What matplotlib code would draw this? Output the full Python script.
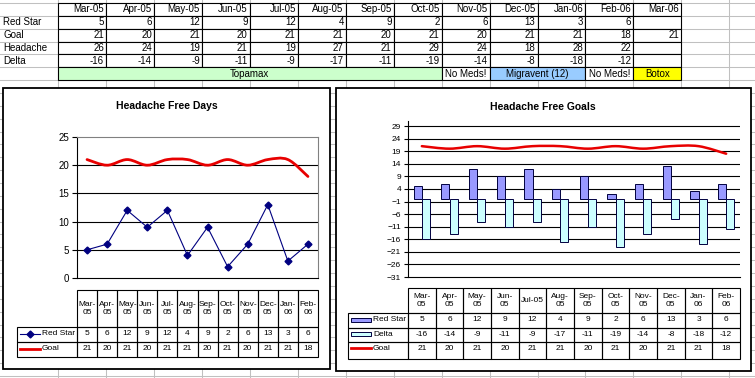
import numpy as np
import matplotlib.pyplot as plt
from matplotlib.patches import Rectangle, PathPatch
from matplotlib.path import Path
from matplotlib.lines import Line2D
from matplotlib.transforms import blended_transform_factory

plt.rcParams['font.family'] = ['Liberation Sans', 'DejaVu Sans']

# data
months = ['Mar-05', 'Apr-05', 'May-05', 'Jun-05', 'Jul-05', 'Aug-05',
          'Sep-05', 'Oct-05', 'Nov-05', 'Dec-05', 'Jan-06', 'Feb-06']
next_month = 'Mar-06'
red_star = [5, 6, 12, 9, 12, 4, 9, 2, 6, 13, 3, 6]
goal = [21, 20, 21, 20, 21, 21, 20, 21, 20, 21, 21, 18]
goal_next = 21
headache = [26, 24, 19, 21, 19, 27, 21, 29, 24, 18, 28, 22]
delta = [-16, -14, -9, -11, -9, -17, -11, -19, -14, -8, -18, -12]
meds = ['Topamax', 'No Meds!', 'Migravent (12)', 'No Meds!', 'Botox']
med_spans = [8, 1, 2, 1, 1]
med_colors = ['#ccffcc', 'white', '#99ccff', 'white', '#ffff00']

RED = '#e80000'
NAVY = '#000080'
PURPLE = '#9999ff'
CYAN = '#ccffff'

W, H = 755, 378
fig = plt.figure(figsize=(W / 100, H / 100), dpi=100)
bg = fig.add_axes([0, 0, 1, 1])
bg.set_xlim(0, W)
bg.set_ylim(H, 0)
bg.axis('off')


def px_axes(x0, y0, x1, y1):
    return fig.add_axes([x0 / W, 1 - y1 / H, (x1 - x0) / W, (y1 - y0) / H])


def smooth_path(xs, ys):
    # excel-style smoothed line (catmull-rom as cubic beziers)
    pts = np.column_stack([xs, ys]).astype(float)
    n = len(pts)
    verts, codes = [pts[0]], [Path.MOVETO]
    for i in range(n - 1):
        p0 = pts[i - 1] if i > 0 else pts[i]
        p1, p2 = pts[i], pts[i + 1]
        p3 = pts[i + 2] if i + 2 < n else pts[i + 1]
        verts += [p1 + (p2 - p0) / 6, p2 - (p3 - p1) / 6, p2]
        codes += [Path.CURVE4] * 3
    return Path(verts, codes)


# spreadsheet gridlines
col_x0, col_w = 58, 47.95
row_y0, row_h = 3, 12.86
for k in range(15):
    x = col_x0 + k * col_w
    bg.plot([x, x], [0, H], color='#c0c0c0', lw=0.75, zorder=0)
for k in range(-1, 30):
    y = row_y0 + k * row_h
    bg.plot([0, W], [y, y], color='#c0c0c0', lw=0.75, zorder=0)

# top table
sheet_rows = [('Red Star', red_star + ['']), ('Goal', goal + [goal_next]),
              ('Headache', headache + ['']), ('Delta', delta + [''])]
sheet_months = months + [next_month]
for c, m in enumerate(sheet_months):
    x = col_x0 + c * col_w
    for r in range(5):
        bg.add_patch(Rectangle((x, row_y0 + r * row_h), col_w, row_h,
                               fc='white', ec='black', lw=0.8, zorder=1))
    bg.text(x + col_w - 2, row_y0 + 0.5 * row_h, m, ha='right', va='center',
            fontsize=7, zorder=2)
    for r, (name, vals) in enumerate(sheet_rows):
        bg.text(x + col_w - 2, row_y0 + (r + 1.5) * row_h, str(vals[c]),
                ha='right', va='center', fontsize=7, zorder=2)
for r, (name, vals) in enumerate(sheet_rows):
    bg.text(3, row_y0 + (r + 1.5) * row_h, name, ha='left', va='center',
            fontsize=7, zorder=2)

c = 0
y_med = row_y0 + 5 * row_h
for label, span, color in zip(meds, med_spans, med_colors):
    x = col_x0 + c * col_w
    bg.add_patch(Rectangle((x, y_med), span * col_w, row_h, fc=color,
                           ec='black', lw=0.8, zorder=1))
    bg.text(x + span * col_w / 2, y_med + row_h / 2, label, ha='center',
            va='center', fontsize=7, zorder=2)
    c += span

# chart panels
bg.add_patch(Rectangle((3, 88), 327, 281, fc='white', ec='black', lw=1.3, zorder=3))
bg.add_patch(Rectangle((336, 88), 415, 283, fc='white', ec='black', lw=1.3, zorder=3))
bg.text(167, 106, 'Headache Free Days', ha='center', va='center',
        fontsize=7.5, fontweight='bold', zorder=4)
bg.text(543, 107, 'Headache Free Goals', ha='center', va='center',
        fontsize=7.5, fontweight='bold', zorder=4)

x = np.arange(len(months))

# left chart
ax1 = px_axes(77, 137, 318, 278)
ax1.set_xlim(-0.5, 11.5)
ax1.set_ylim(0, 25)
ax1.set_yticks(range(0, 26, 5))
ax1.set_xticks([])
ax1.tick_params(axis='y', labelsize=7, length=3.5, width=0.8, pad=2)
for s in ['top', 'right']:
    ax1.spines[s].set_color('#808080')
for s in ['left', 'bottom']:
    ax1.spines[s].set_color('black')
for v in range(5, 25, 5):
    ax1.axhline(v, color='black', lw=0.8, zorder=1)
ax1.plot(x, red_star, color=NAVY, lw=0.8, marker='D', ms=3.5, zorder=3)
ax1.add_patch(PathPatch(smooth_path(x, goal), fc='none', ec=RED, lw=2,
                        capstyle='round', zorder=3))

# right chart
ax2 = px_axes(408, 121, 740, 277)
ax2.set_xlim(-0.5, 11.5)
ax2.set_ylim(-31, 31)
ax2.set_yticks(range(-31, 30, 5))
ax2.set_xticks([])
ax2.tick_params(axis='y', labelsize=6, length=3, width=0.8, pad=2)
for s in ['top', 'right']:
    ax2.spines[s].set_visible(False)
for v in range(-26, 30, 5):
    ax2.axhline(v, color='black', lw=0.8, zorder=1)
bw = 0.29
ax2.bar(x - bw / 2, red_star, width=bw, color=PURPLE, ec='#000040', lw=0.7, zorder=2)
ax2.bar(x + bw / 2, delta, width=bw, color=CYAN, ec='#000040', lw=0.7, zorder=2)
ax2.add_patch(PathPatch(smooth_path(x, goal), fc='none', ec=RED, lw=1.8,
                        capstyle='round', zorder=3))


# data tables under the charts
def data_table(ax, heads, rows, y_edges, leg_x0, fs=6):
    tr = blended_transform_factory(ax.transData, bg.transData)
    leg_x1 = ax.get_position().x0 * W
    for i, h in enumerate(heads):
        for r in range(len(y_edges) - 1):
            bg.add_patch(Rectangle((i - 0.5, y_edges[r]), 1, y_edges[r + 1] - y_edges[r],
                                   transform=tr, fill=False, ec='black', lw=0.8, zorder=5))
        bg.text(i, (y_edges[0] + y_edges[1]) / 2, h, transform=tr, ha='center',
                va='center', fontsize=fs, linespacing=1.15, zorder=6)
        for r, (name, vals, key) in enumerate(rows):
            bg.text(i, y_edges[r + 1] + 6.5, str(vals[i]), transform=tr,
                    ha='center', va='center', fontsize=fs, zorder=6)
    for r, (name, vals, key) in enumerate(rows):
        y0, y1 = y_edges[r + 1], y_edges[r + 2]
        ym = y0 + 6.5
        bg.add_patch(Rectangle((leg_x0, y0), leg_x1 - leg_x0, y1 - y0, fill=False,
                               ec='black', lw=0.8, zorder=5))
        kx0, kx1 = leg_x0 + 3, leg_x0 + 23
        if key == 'marker':
            bg.add_line(Line2D([kx0, kx1], [ym, ym], color=NAVY, lw=0.8,
                               marker='D', ms=3.5, markevery=[1], zorder=6))
            bg.lines[-1].set_data([kx0, (kx0 + kx1) / 2, kx1], [ym, ym, ym])
        elif key == 'line':
            bg.add_line(Line2D([kx0, kx1], [ym, ym], color=RED, lw=2, zorder=6))
        else:
            bg.add_patch(Rectangle((kx0, ym - 2), kx1 - kx0, 4, fc=key,
                                   ec='#000040', lw=0.7, zorder=6))
        bg.text(kx1 + 2, ym, name, ha='left', va='center', fontsize=fs, zorder=6)


heads1 = [m.replace('-', '-\n') for m in months]
data_table(ax1, heads1,
           [('Red Star', red_star, 'marker'), ('Goal', goal, 'line')],
           [290, 327, 342, 357], 17)

heads2 = [m if m == 'Jul-05' else m.replace('-', '-\n') for m in months]
data_table(ax2, heads2,
           [('Red Star', red_star, PURPLE), ('Delta', delta, CYAN),
            ('Goal', goal, 'line')],
           [288, 313, 327.7, 341.7, 359], 348)

fig.savefig('out.png', dpi=100)
